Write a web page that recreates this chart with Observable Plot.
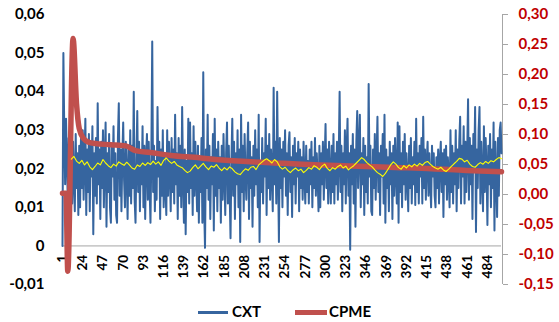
<!DOCTYPE html>
<html>
<head>
<meta charset="utf-8">
<script src="https://cdn.jsdelivr.net/npm/d3@7"></script>
<script src="https://cdn.jsdelivr.net/npm/@observablehq/plot@0.6"></script>
<style>
  html, body { margin: 0; padding: 0; background: #fff; }
  #wrap { width: 559px; height: 322px; position: relative; font-family: Lato, "Open Sans", sans-serif; }
  #legend { position: relative; height: 24px; font-weight: bold; font-size: 15px; color: #000; }
  .sw { position: absolute; }
  .lt { position: absolute; top: 4px; line-height: 18px; }
</style>
</head>
<body>
<div id="wrap">
  <div id="chart"></div>
  <div id="legend"></div>
</div>
<script>
// ---- data ----
const cxt = [
  0, .050, .030, .016, .033, .022, .012, .028, .018, .033,
  .024, .011, .027, .017, .009, .029, .015, .024, .008, .026,
  .010, .028, .015, .030, .012, .022, .033, .008, .025, .014,
  .029, .009, .026, .018, .031, .003, .024, .013, .028, .011,
  .037, .016, .025, .007, .027, .015, .030, .010, .022, .032,
  .005, .024, .014, .029, .010, .006, .026, .018, .031, .012,
  .024, .008, .006, .028, .037, .013, .025, .009, .023, .032,
  .017, .010, .027, .019, .007, .025, .013, .030, .011, .026,
  .015, .040, .012, .006, .022, .035, .014, .027, .009, .024,
  .016, .031, .010, .026, .007, .023, .029, .012, .027, .015,
  .006, .024, .053, .014, .026, .009, .022, .012, .036, .018,
  .027, .007, .025, .013, .030, .010, .024, .015, .008, .030,
  .013, .027, .019, .009, .028, .014, .025, .011, .034, .016,
  .024, .007, .028, .013, .026, .010, .036, .018, .006, .025,
  .003, .022, .014, .033, .011, .032, .015, .024, .008, .031,
  .013, .027, .018, .009, .026, .006, .023, .014, .028, .006,
  .045, .010, -.0005, .025, .015, .034, .012, .026, .007, .023,
  .016, .029, .004, .033, .013, .025, .009, .027, .015, .023,
  .006, .026, .012, .029, .018, .008, .024, .032, .011, .026,
  .014, .002, .022, .033, .013, .027, .007, .024, .016, .030,
  .010, .025, .001, .034, .014, .026, .009, .029, .018, .012,
  .024, .032, .007, .027, .015, .023, .005, .026, .013, .030,
  .016, .025, .010, .034, .001, .022, .014, .028, .011, .024,
  .018, .033, .008, .026, .015, .029, .012, .025, .019, .009,
  .041, .016, .027, .011, .040, .020, .001, .028, .015, .025,
  .010, .027, .018, .030, .013, .024, .008, .026, .0295, .014,
  .023, .0075, .026, .016, .028, .011, .024, .018, .027, .009,
  .025, .015, .023, .012, .027, .018, .011, .026, .014, .022,
  .011, .025, .016, .027, .010, .023, .015, .028, .013, .024,
  .018, .009, .026, .010, .024, .016, .027, .012, .022, .0316,
  .015, .025, .011, .027, .018, .011, .026, .014, .029, .011,
  .024, .016, .027, .012, .023, .040, .014, .026, .009, .024,
  .016, .030, .011, .025, .033, .013, .024, -.001, .026, .016,
  .029, .011, .025, .005, .027, .035, .015, .025, .034, .010,
  .024, .016, .028, .008, .026, .014, .023, .011, .042, .018,
  .026, .009, .008, .025, .015, .029, .012, .023, .0335, .014,
  .024, .008, .026, .018, .029, .011, .034, .006, .025, .015,
  .023, .009, .027, .016, .024, .007, .026, .013, .028, .019,
  .011, .032, .006, .031, .014, .024, .010, .027, .016, .029,
  .012, .024, .018, .009, .026, .015, .028, .011, .023, .016,
  .027, .0106, .033, .014, .024, .011, .026, .018, .028, .011,
  .0335, .015, .025, .012, .022, .027, .013, .024, .016, .010,
  .026, .018, .024, .013, .010, .023, .015, .025, .011, .022,
  .027, .014, .024, .0075, .025, .016, .026, .012, .023, .018,
  .010, .030, .014, .026, .011, .024, .016, .030, .009, .025,
  .015, .027, .0335, .011, .026, .018, .031, .011, .027, .014,
  .024, .038, .012, .028, .016, .026, .007, .029, .020, .036,
  .0036, .025, .015, .030, .036, .011, .027, .018, .009, .031,
  .014, .028, .020, .0054, .026, .016, .029, .010, .025, .015,
  .032, .004, .027, .018, .0075, .028, .013, .030, .032, .024
];

// thin yellow line (moving level), read every 3 observations from obs. 11
const maStart = 11, maStep = 3;
const maValues = [
  .0225, .0232, .0220, .0214, .0222, .0210, .0218, .0205, .0198, .0206,
  .0215, .0210, .0224, .0215, .0208, .0203, .0212, .0207, .0218, .0213,
  .0209, .0217, .0210, .0202, .0199, .0210, .0206, .0215, .0209, .0216,
  .0211, .0220, .0212, .0218, .0209, .0222, .0228, .0220, .0214, .0219,
  .0210, .0206, .0203, .0196, .0190, .0194, .0203, .0210, .0200, .0207,
  .0214, .0205, .0198, .0207, .0204, .0211, .0202, .0195, .0203, .0197,
  .0205, .0200, .0192, .0187, .0185, .0193, .0200, .0196, .0204, .0206,
  .0198, .0210, .0216, .0222, .0226, .0221, .0215, .0224, .0218, .0205,
  .0199, .0204, .0196, .0190, .0197, .0202, .0195, .0199, .0190, .0196,
  .0203, .0199, .0208, .0204, .0198, .0207, .0212, .0201, .0195, .0203,
  .0199, .0206, .0210, .0202, .0207, .0197, .0203, .0208, .0215, .0222,
  .0229, .0224, .0216, .0210, .0205, .0197, .0190, .0186, .0180, .0188,
  .0199, .0210, .0218, .0212, .0203, .0199, .0208, .0202, .0210, .0205,
  .0212, .0207, .0214, .0209, .0216, .0219, .0212, .0206, .0202, .0199,
  .0204, .0197, .0193, .0199, .0206, .0213, .0219, .0227, .0225, .0218,
  .0222, .0212, .0206, .0204, .0211, .0216, .0212, .0219, .0214, .0221,
  .0218, .0224, .0229, .0226
];

// CPME (right axis), read at these observations
const cpmeObs = [1, 5, 7, 13, 17, 20, 25, 31, 38, 56, 73, 84, 101, 124, 158, 169, 210, 253, 294, 337, 379, 421, 460, 500];
const cpmeVal = [0.002, 0.002, -0.128, 0.26, 0.15, 0.11, 0.093, 0.087, 0.085, 0.083, 0.081, 0.073, 0.070, 0.065, 0.061, 0.059, 0.055, 0.052, 0.049, 0.047, 0.045, 0.043, 0.040, 0.038];

const leftTicks = [-0.01, 0, 0.01, 0.02, 0.03, 0.04, 0.05, 0.06];
const rightTicks = [-0.15, -0.10, -0.05, 0.00, 0.05, 0.10, 0.15, 0.20, 0.25, 0.30];
const xTicks = [1, 24, 47, 70, 93, 116, 139, 162, 185, 208, 231, 254, 277, 300, 323, 346, 369, 392, 415, 438, 461, 484];
const seriesNames = ["CXT", "CPME"];
const colors = { cxt: "#36659f", cpme: "#c0504d", ma: "#ffff00", axisRed: "#c00000" };

// ---- scales mapping right axis onto left ----
const L0 = -0.01, L1 = 0.06, R0 = -0.15, R1 = 0.30;
const toLeft = r => L0 + (r - R0) * (L1 - L0) / (R1 - R0);
const fromLeft = l => R0 + (l - L0) * (R1 - R0) / (L1 - L0);
const comma = v => v.toFixed(2).replace(".", ",");

const blueData = cxt.map((v, i) => ({ i: i + 1, v }));
const maData = maValues.map((v, i) => ({ i: maStart + i * maStep, v }));
const redData = cpmeObs.map((o, k) => ({ i: o, v: toLeft(cpmeVal[k]) }));

const chart = Plot.plot({
  width: 559,
  height: 298,
  marginLeft: 62,
  marginRight: 58,
  marginTop: 14,
  marginBottom: 14,
  style: { fontFamily: "Lato, 'Open Sans', sans-serif", fontWeight: "bold", fontSize: "15px", color: "#000", background: "#fff" },
  x: { domain: [1, 500], axis: null },
  y: { domain: [L0, L1], label: null },
  marks: [
    Plot.axisY({ anchor: "left", label: null, ticks: leftTicks, tickSize: 0, tickPadding: 18, tickFormat: d => Math.abs(d) < 1e-9 ? "0" : comma(d), fontSize: 15 }),
    Plot.axisY({ anchor: "right", label: null, ticks: rightTicks.map(toLeft), tickSize: 5, tickPadding: 11, dx: 1,
      tickFormat: d => { const r = fromLeft(d); return comma(Math.abs(r) < 1e-9 ? 0 : r); },
      fill: colors.axisRed, stroke: "#a6a6a6", fontSize: 15 }),
    Plot.ruleX([500], { y1: L0, y2: L1, stroke: "#a6a6a6", dx: 1 }),
    Plot.ruleY([0], { stroke: "#a6a6a6" }),
    Plot.text(xTicks, { x: d => d, y: 0, text: d => String(d), rotate: -90, textAnchor: "end", dy: 9, fontSize: 13.5, fill: "#000" }),
    Plot.line(blueData, { x: "i", y: "v", stroke: colors.cxt, strokeWidth: 2 }),
    Plot.line(redData, { x: "i", y: "v", stroke: colors.cpme, strokeWidth: 5.5, curve: "monotone-x" }),
    Plot.line(maData, { x: "i", y: "v", stroke: colors.ma, strokeWidth: 1.1 })
  ]
});
document.getElementById("chart").appendChild(chart);

// legend
const lg = document.getElementById("legend");
const items = [
  { name: seriesNames[0], color: colors.cxt, sw: 3, swLeft: 198, swW: 30, tLeft: 232 },
  { name: seriesNames[1], color: colors.cpme, sw: 5, swLeft: 295, swW: 32, tLeft: 329 }
];
for (const it of items) {
  const s = document.createElement("div");
  s.className = "sw";
  s.style.left = it.swLeft + "px";
  s.style.width = it.swW + "px";
  s.style.height = it.sw + "px";
  s.style.top = (14 - it.sw / 2) + "px";
  s.style.background = it.color;
  lg.appendChild(s);
  const t = document.createElement("div");
  t.className = "lt";
  t.style.left = it.tLeft + "px";
  t.textContent = it.name;
  lg.appendChild(t);
}
</script>
</body>
</html>
